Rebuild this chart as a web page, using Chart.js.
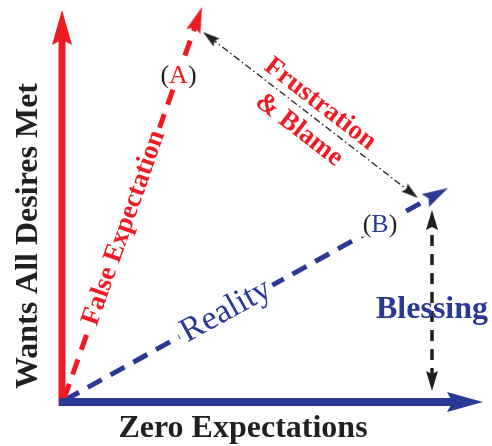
<!DOCTYPE html>
<html>
<head>
<meta charset="utf-8">
<script src="https://cdn.jsdelivr.net/npm/chart.js@4/dist/chart.umd.min.js"></script>
<style>
  html, body { margin: 0; padding: 0; background: #fff; }
  canvas { display: block; }
</style>
</head>
<body>
<canvas id="diagram" width="492" height="446"></canvas>
<script>
// every point is [x, y] with the origin where the two axes meet
var wantsAxis = [[0, -4], [0, 392]];
var zeroAxis = [[-3, 0], [421, 0]];
var falseExpectation = [[2, 3], [140, 395]];
var reality = [[3, 2], [386, 214]];
var frustration = [[141, 370], [356, 204]];
var blessing = [[370, 11], [370, 192]];

var RED = '#ed1c24';
var BLUE = '#2a3a94';
var BLACK = '#231f20';
var SERIF = "'Liberation Serif', 'Times New Roman', serif";

// arrow head drawn pointing up, tip in the middle of the canvas
function arrowHead(color, len, wid) {
    var c = document.createElement('canvas');
    c.width = Math.ceil(wid) + 2;
    c.height = Math.ceil(len) * 2;
    var g = c.getContext('2d');
    var cx = c.width / 2, tipY = c.height / 2, baseY = tipY + len;
    g.fillStyle = color;
    g.beginPath();
    g.moveTo(cx, tipY);
    g.lineTo(cx + wid / 2, baseY);
    g.lineTo(cx, baseY - len * 0.15);
    g.lineTo(cx - wid / 2, baseY);
    g.closePath();
    g.fill();
    return c;
}

function trimmed(seg, cutA, cutB) {
    var x0 = seg[0][0], y0 = seg[0][1], x1 = seg[1][0], y1 = seg[1][1];
    var len = Math.hypot(x1 - x0, y1 - y0);
    var ux = (x1 - x0) / len, uy = (y1 - y0) / len;
    return [
        {x: x0 + ux * cutA, y: y0 + uy * cutA},
        {x: x1 - ux * cutB, y: y1 - uy * cutB}
    ];
}

function lineSet(seg, color, width, dash, cutA, cutB, order) {
    return {
        data: trimmed(seg, cutA, cutB),
        showLine: true,
        borderColor: color,
        borderWidth: width,
        borderDash: dash,
        borderCapStyle: 'butt',
        pointRadius: 0,
        order: order
    };
}

// heads: tip at the end of the segment, pointing away from the other end
function headSet(seg, img, both) {
    var pts = [{x: seg[1][0], y: seg[1][1], ax: seg[0][0], ay: seg[0][1]}];
    if (both) pts.push({x: seg[0][0], y: seg[0][1], ax: seg[1][0], ay: seg[1][1]});
    return {
        data: pts,
        showLine: false,
        pointStyle: img,
        pointRadius: 5,
        order: 0,
        rotation: function (ctx) {
            var r = ctx.raw;
            if (!r || r.ax === undefined) return 0;
            var sx = ctx.chart.scales.x, sy = ctx.chart.scales.y;
            var dx = sx.getPixelForValue(r.x) - sx.getPixelForValue(r.ax);
            var dy = sy.getPixelForValue(r.y) - sy.getPixelForValue(r.ay);
            return Math.atan2(dx, -dy) * 180 / Math.PI;
        }
    };
}

var labels = [
    {parts: [['Wants All Desires Met', BLACK]], at: [-25, 166], angle: -90, baseline: 'alphabetic', font: 'bold 32px ' + SERIF},
    {parts: [['Zero Expectations', BLACK]], at: [181, -35], angle: 0, baseline: 'alphabetic', font: 'bold 32px ' + SERIF},
    {parts: [['Blessing', BLUE]], at: [370, 84], angle: 0, baseline: 'alphabetic', font: 'bold 32px ' + SERIF},
    {parts: [['(', BLACK], ['A', RED], [')', BLACK]], at: [116.5, 326], angle: 0, box: 3, font: '26px ' + SERIF},
    {parts: [['(', BLACK], ['B', BLUE], [')', BLACK]], at: [318, 177], angle: 0, box: 3, font: '26px ' + SERIF},
    {parts: [['False Expectation', RED]], at: [62, 174], along: falseExpectation, box: 4, font: 'bold 27px ' + SERIF},
    {parts: [['Reality', BLUE]], at: [164, 91], along: reality, box: 4, font: '34px ' + SERIF},
    {parts: [['Frustration', RED]], at: [258, 298], along: frustration, font: 'bold 27px ' + SERIF},
    {parts: [['& Blame', RED]], at: [237, 272], along: frustration, font: 'bold 27px ' + SERIF}
];

var textPlugin = {
    id: 'diagramText',
    afterDatasetsDraw: function (chart) {
        var ctx = chart.ctx, sx = chart.scales.x, sy = chart.scales.y;
        labels.forEach(function (lb) {
            var angle = lb.angle || 0;
            if (lb.along) {
                var dx = sx.getPixelForValue(lb.along[1][0]) - sx.getPixelForValue(lb.along[0][0]);
                var dy = sy.getPixelForValue(lb.along[1][1]) - sy.getPixelForValue(lb.along[0][1]);
                angle = Math.atan2(dy, dx) * 180 / Math.PI;
            }
            ctx.save();
            ctx.font = lb.font;
            ctx.translate(sx.getPixelForValue(lb.at[0]), sy.getPixelForValue(lb.at[1]));
            ctx.rotate(angle * Math.PI / 180);
            ctx.textAlign = 'left';
            ctx.textBaseline = lb.baseline || 'middle';
            var widths = lb.parts.map(function (p) { return ctx.measureText(p[0]).width; });
            var total = widths.reduce(function (a, b) { return a + b; }, 0);
            if (lb.box) {
                var h = parseFloat(lb.font.match(/(\d+)px/)[1]) * 0.9;
                ctx.fillStyle = '#fff';
                ctx.fillRect(-total / 2 - lb.box, -h / 2, total + 2 * lb.box, h);
            }
            var x = -total / 2;
            lb.parts.forEach(function (p, i) {
                ctx.fillStyle = p[1];
                ctx.fillText(p[0], x, 0);
                x += widths[i];
            });
            ctx.restore();
        });
    }
};

var bigRed = arrowHead(RED, 35, 20);
var bigBlue = arrowHead(BLUE, 36, 20);
var midRed = arrowHead(RED, 26, 15);
var midBlue = arrowHead(BLUE, 26, 15);
var smallBlack = arrowHead(BLACK, 17, 10);
var blessBlack = arrowHead(BLACK, 20, 12);

var datasets = [
    headSet(wantsAxis, bigRed, false),
    headSet(zeroAxis, bigBlue, false),
    headSet(falseExpectation, midRed, false),
    headSet(reality, midBlue, false),
    headSet(frustration, smallBlack, true),
    headSet(blessing, blessBlack, true),
    lineSet(zeroAxis, BLUE, 8, [], 0, 22, 1),
    lineSet(wantsAxis, RED, 7, [], 0, 22, 2),
    lineSet(falseExpectation, RED, 5, [16, 10], 0, 16, 3),
    lineSet(reality, BLUE, 5, [16, 10], 0, 16, 3),
    lineSet(frustration, BLACK, 1.3, [7, 3, 1.5, 3], 10, 10, 3),
    lineSet(blessing, BLACK, 3.5, [11, 8], 12, 12, 3)
];

var ctx = document.getElementById('diagram');
var diagram = new Chart(ctx, {
    type: 'scatter',
    data: {datasets: datasets},
    options: {
        responsive: false,
        animation: false,
        events: [],
        layout: {padding: 0, autoPadding: false},
        plugins: {
            legend: {display: false},
            tooltip: {enabled: false}
        },
        scales: {
            x: {type: 'linear', min: -62, max: 430, display: false},
            y: {type: 'linear', min: -44, max: 402, display: false}
        }
    },
    plugins: [textPlugin]
});
</script>
</body>
</html>
